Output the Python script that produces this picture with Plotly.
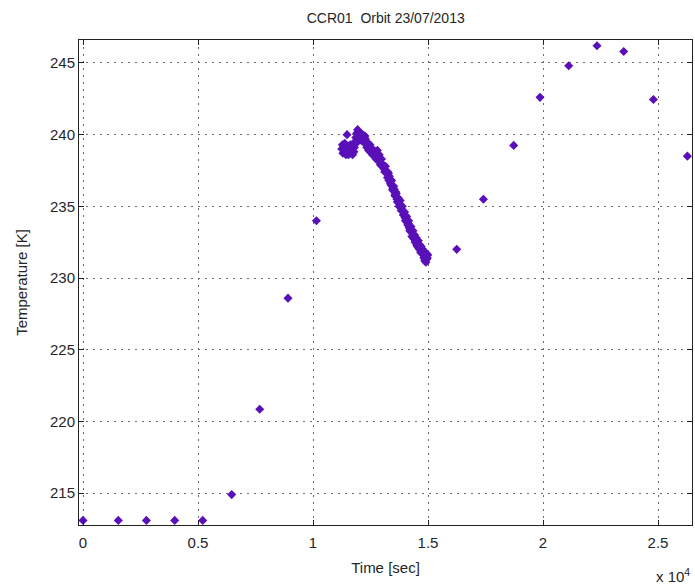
import plotly.graph_objects as go

# Orbit temperature samples for CCR01 (time in seconds, temperature in kelvin)
time_sparse = [0, 1535, 2757, 3987, 5204, 6465, 7683, 8913, 10148,
               16248, 17409, 18726, 19870, 21117, 22348, 23509, 24800, 26278]
temp_sparse = [213.1, 213.1, 213.1, 213.1, 213.1, 214.9, 220.85, 228.6, 234.0,
               232.0, 235.5, 239.25, 242.6, 244.8, 246.2, 245.8, 242.45, 238.5]

# Dense pass segment (approx. 11200 s - 15000 s)
time_dense = [11480, 11250, 11280, 11300, 11330, 11360, 11380, 11400, 11430, 11450,
              11470, 11520, 11540, 11560, 11600, 11620, 11650, 11700, 11720, 11740,
              11780, 11800, 11820, 11860, 11880, 11900, 11940, 11960, 11990,
              12020, 12040, 12080, 12100, 12120, 12160, 12180, 12200, 12240, 12260,
              12280, 12320, 12340, 12360, 12400, 12420, 12440, 12480, 12500, 12520,
              12560, 12580, 12600, 12650, 12680, 12700,
              12740, 12760, 12790, 12800, 12830, 12850, 12880, 12900, 12930, 12950,
              12980, 13000, 13050, 13090, 13120, 13150, 13240, 13250, 13280, 13300,
              13320, 13340, 13370, 13390, 13420, 13440, 13460, 13480, 13510, 13530,
              13560, 13580, 13600, 13620, 13650, 13670, 13700, 13720, 13740, 13760,
              13790, 13810, 13840, 13860, 13880, 13900, 13930, 13950, 13980, 14000,
              14020, 14040, 14070, 14090, 14120, 14140, 14160, 14180, 14210, 14230,
              14260, 14280, 14300, 14320, 14350, 14370, 14400, 14420, 14440, 14460,
              14490, 14510, 14540, 14560, 14580, 14600, 14630, 14650, 14680, 14700,
              14720, 14740, 14770, 14790, 14820, 14840, 14860, 14880, 14910, 14930,
              14950, 14970, 14990]
temp_dense = [240.0, 239.0, 239.3, 238.7, 239.2, 238.9, 239.4, 239.1, 238.6, 239.0,
              238.9, 239.2, 238.6, 238.8, 239.0, 239.3, 238.7, 238.9, 238.6, 239.3,
              238.8, 239.1, 239.5, 239.8, 239.4, 240.1, 240.35, 239.9, 240.2,
              240.0, 239.9, 240.1, 239.6, 239.8, 240.0, 239.5, 239.7, 239.5, 239.9,
              239.7, 239.4, 239.1, 239.2, 239.4, 238.9, 239.1, 239.3, 238.8, 238.9,
              239.0, 238.6, 238.7, 238.9, 238.5, 238.8,
              238.3, 238.7, 238.4, 238.9, 238.2, 238.4, 238.6, 238.1, 237.9, 238.0,
              238.3, 237.8, 237.9, 237.6, 237.4, 237.8, 237.0, 237.4, 237.3, 236.8,
              237.1, 236.9, 236.6, 236.5, 236.8, 236.4, 236.2, 236.1, 236.4, 236.2,
              235.8, 235.7, 236.0, 235.9, 235.5, 235.3, 235.6, 235.5, 235.0, 235.2,
              235.4, 235.0, 234.7, 234.8, 235.0, 234.7, 234.4, 234.4, 234.6, 234.2,
              234.0, 234.2, 234.3, 233.9, 233.7, 233.8, 234.0, 233.5, 233.3, 233.4,
              233.6, 233.2, 232.9, 233.1, 233.3, 232.8, 232.7, 233.0, 232.5, 232.6,
              232.8, 232.3, 232.2, 232.4, 232.6, 232.1, 232.0, 232.3, 231.8, 232.2,
              231.9, 231.7, 232.0, 231.8, 231.4, 231.6, 231.2, 231.5, 231.1, 231.3,
              231.7, 231.4, 231.6]

x_ticks = [0, 5000, 10000, 15000, 20000, 25000]
x_tick_text = ["0", "0.5", "1", "1.5", "2", "2.5"]
y_ticks = [215, 220, 225, 230, 235, 240, 245]

marker_color = "#5a10b8"
font_family = "Liberation Sans, Arial, sans-serif"
text_color = "#262626"

fig = go.Figure()
fig.add_trace(go.Scatter(
    x=time_sparse + time_dense,
    y=temp_sparse + temp_dense,
    mode="markers",
    marker=dict(symbol="diamond", size=7, color=marker_color, line=dict(width=0)),
    cliponaxis=False,
    showlegend=False,
))

axis_common = dict(
    showline=True, linecolor="#222", linewidth=1, mirror="allticks",
    ticks="inside", ticklen=5, tickcolor="#222", tickwidth=1,
    showgrid=True, gridcolor="#6a6a6a", gridwidth=1, griddash="2px,5px",
    zeroline=False,
    tickfont=dict(family=font_family, size=15, color=text_color),
)

fig.update_xaxes(
    range=[-174, 26478], tickvals=x_ticks, ticktext=x_tick_text,
    ticklabelstandoff=4,
    title=dict(text="Time [sec]", font=dict(family=font_family, size=15, color=text_color),
               standoff=12),
    **axis_common,
)
fig.update_yaxes(
    range=[212.78, 246.6], tickvals=y_ticks,
    title=dict(text="Temperature [K]", font=dict(family=font_family, size=15, color=text_color),
               standoff=18),
    **axis_common,
)

fig.update_layout(
    width=695, height=587,
    margin=dict(l=79, r=3, t=40, b=62),
    paper_bgcolor="white", plot_bgcolor="white",
    title=dict(text="CCR01  Orbit 23/07/2013", x=0.555, xanchor="center", y=0.970,
               yanchor="middle", font=dict(family=font_family, size=14, color=text_color)),
    annotations=[dict(text="x 10<sup>4</sup>", xref="paper", yref="paper",
                      x=1.0, y=-0.08, xanchor="right", yanchor="top", showarrow=False,
                      font=dict(family=font_family, size=15, color=text_color))],
)

fig.write_html("out.html")
